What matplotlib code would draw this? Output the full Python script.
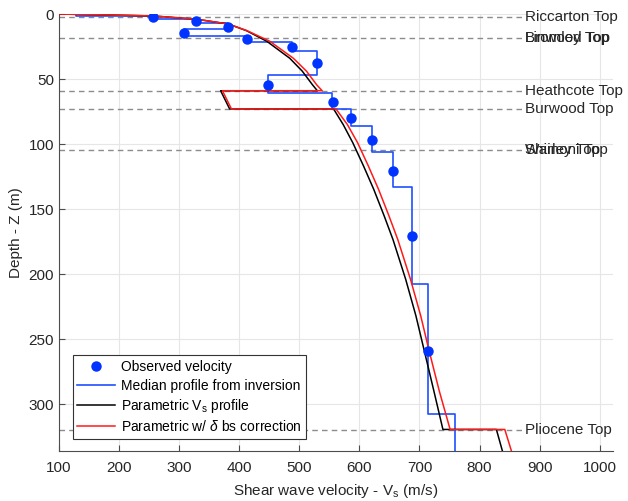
import numpy as np
import matplotlib
matplotlib.use("Agg")
import matplotlib.pyplot as plt

plt.rcParams['font.family'] = ['Liberation Sans', 'DejaVu Sans']
plt.rcParams['mathtext.fontset'] = 'custom'
plt.rcParams['mathtext.rm'] = 'Liberation Sans'
plt.rcParams['mathtext.it'] = 'Liberation Sans:italic'

# observed velocity (m/s) and depth (m)
obs_vs = [257, 328, 381, 308, 413, 488, 529, 448, 556, 586, 621, 656, 687, 714]
obs_z = [2.5, 5.4, 10, 14.6, 19.2, 25.3, 37.6, 54.5, 67.6, 80, 96.8, 120.5, 171, 259]

# median profile from inversion: layer velocity and layer bottom depth
layer_vs = [128, 257, 328, 381, 308, 413, 488, 529, 448, 554, 586, 621, 656, 687, 714, 759]
layer_bot = [1.5, 4.1, 6.7, 11.8, 16.6, 21.8, 28.4, 46.8, 61, 73.3, 86, 106, 133.4, 208, 308, 336]

# parametric Vs profile
par_vs = [100, 180, 257, 329, 382, 412, 446, 484, 505, 522, 530,
          369, 384,
          557, 573, 589, 607, 624, 641, 656, 677, 694, 708, 724, 739,
          828, 838]
par_z = [0, 0.7, 1.5, 4, 7.7, 12.8, 21, 34, 44, 54.5, 59,
         59, 73,
         73, 85, 99, 117, 135, 155, 173.6, 204, 232, 259, 290, 319.5,
         319.5, 336]

# parametric with delta bs correction
cor_vs = [100, 180, 257, 329, 382, 413, 451, 490, 512, 529, 538,
          372, 387,
          561, 580, 597, 615, 632, 649, 664, 685, 702, 716, 733, 751,
          842, 853]
cor_z = par_z

# geologic unit tops
unit_names = ["Riccarton Top", "Bromley Top", "Linwood Top", "Heathcote Top",
              "Burwood Top", "Shirley Top", "Wainoni Top", "Pliocene Top"]
unit_z = [2, 18.2, 18.2, 59, 73, 104.5, 104.5, 320]

fig = plt.figure(figsize=(6.28, 5.01), dpi=100)
ax = fig.add_axes([0.094, 0.1, 0.882, 0.872])

# step profile from the layers
step_vs = np.repeat(layer_vs, 2)
step_z = np.concatenate([[0], np.repeat(layer_bot, 2)[:-1]])

for z in sorted(set(unit_z)):
    ax.plot([100, 875], [z, z], ls=(0, (4, 3)), color='#8c8c8c', lw=1.0, zorder=1)
for name, z in zip(unit_names, unit_z):
    ax.text(876, z, name, va='center', ha='left', fontsize=11, color='#262626')

ax.plot(obs_vs, obs_z, 'o', color='#0033ff', ms=6.5, label='Observed velocity', zorder=5)
ax.plot(step_vs, step_z, color='#1f4fff', lw=1.2, label='Median profile from inversion', zorder=3)
ax.plot(par_vs, par_z, color='black', lw=1.1, label='Parametric V$_\\mathrm{s}$ profile', zorder=3)
ax.plot(cor_vs, cor_z, color='#ff1a1a', lw=1.1, label='Parametric w/ $\\delta$ bs correction', zorder=4)

ax.set_xlim(100, 1022)
ax.set_ylim(336, 0)
ax.set_xticks(range(100, 1001, 100))
ax.set_yticks(range(0, 301, 50))
ax.grid(True, color='#e6e6e6', lw=0.8)
ax.set_axisbelow(True)
for s in ['top', 'right']:
    ax.spines[s].set_visible(False)
for s in ['left', 'bottom']:
    ax.spines[s].set_color('#4d4d4d')
ax.tick_params(direction='in', length=4, colors='#4d4d4d', labelsize=11, labelcolor='#262626')
ax.tick_params(axis='x', pad=7)

ax.set_xlabel('Shear wave velocity - V$_\\mathrm{s}$ (m/s)', fontsize=11, color='#262626', labelpad=5)
ax.set_ylabel('Depth - Z (m)', fontsize=11, color='#262626')

leg = ax.legend(loc='lower left', bbox_to_anchor=(0.012, 0.012), fontsize=10,
                frameon=True, fancybox=False, edgecolor='#333333', framealpha=1,
                handlelength=2.7, handletextpad=0.4, borderpad=0.35, labelspacing=0.3)
leg.get_frame().set_linewidth(0.8)

fig.savefig('out.png', dpi=100)
